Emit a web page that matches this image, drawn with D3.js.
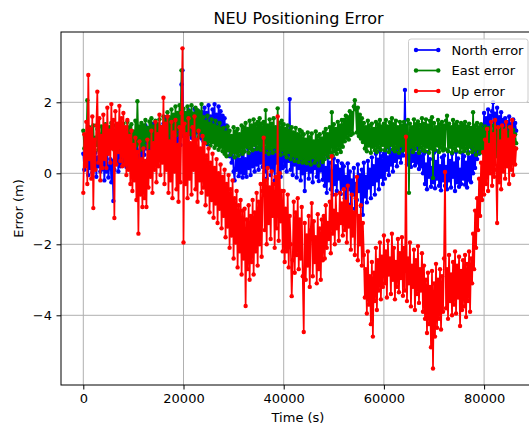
<!DOCTYPE html>
<html>
<head>
<meta charset="utf-8">
<script src="https://cdn.jsdelivr.net/npm/d3@7"></script>
<style>
  html, body { margin: 0; padding: 0; background: #ffffff; }
  svg { display: block; font-family: "DejaVu Sans", sans-serif; }
</style>
</head>
<body>
<svg id="chart" width="529" height="426"></svg>
<script>
// ---- data ----
const chartTitle = "NEU Positioning Error";
const xLabel = "Time (s)";
const yLabel = "Error (m)";
const seriesNames = ["North error", "East error", "Up error"];
const seriesColors = ["#0000ff", "#008000", "#ff0000"];
const xTicks = [0, 20000, 40000, 60000, 80000];
const yTicks = [-4, -2, 0, 2];
const sampleStep = 200; // seconds between plotted epochs (0 .. 86400 s)

const northError = [
  0.55, 0.10, 0.72, 0.25, 0.48, -0.05, 0.80, 0.15, 0.40, 0.02, 0.66, 0.30, 0.58, -0.10, 0.45, 0.20, 0.75, 0.05, 0.35, 0.12,
  0.50, -0.20, 0.30, 0.05, 0.62, -0.12, 0.18, 0.40, -0.25, 0.35, -0.78, 0.10, 0.70, 0.28, 0.55, 0.05, 0.85, 0.20, 0.60, 0.32,
  0.95, 0.30, 0.70, 0.18, 1.05, 0.45, 0.80, 0.25, 0.62, 0.38, 1.10, 0.22, 0.75, 0.50, 0.92, 0.28, 0.58, 0.40, 1.00, 0.35,
  1.15, 0.52, 1.35, 0.70, 0.95, 0.42, 1.28, 0.60, 1.05, 0.48, 1.40, 0.75, 0.90, 0.55, 1.22, 0.65, 1.32, 0.50, 1.10, 0.80,
  1.40, 0.78, 1.58, 0.95, 1.25, 0.70, 1.50, 0.88, 1.35, 1.00, 1.62, 0.74, 1.30, 0.85, 1.52, 0.92, 1.45, 0.80, 2.50, 2.90,
  1.05, 1.70, 1.20, 1.55, 0.92, 1.78, 1.10, 1.45, 1.00, 1.68, 1.25, 1.82, 0.95, 1.60, 1.15, 1.75, 1.02, 1.50, 0.98, 1.72,
  0.90, 1.85, 1.15, 1.70, 0.82, 1.92, 1.05, 1.60, 0.88, 1.80, 1.30, 1.95, 0.95, 1.65, 0.85, 1.88, 1.10, 1.75, 0.92, 1.62,
  0.85, 1.55, 0.95, 1.35, 0.70, 1.20, 0.48, 0.98, 0.30, 0.75, 0.05, -0.20, 0.45, 0.10, 0.62, -0.08, 0.38, 0.02, 0.55, -0.12,
  0.60, 0.00, 0.40, -0.10, 0.72, 0.15, 0.55, -0.05, 0.80, 0.20, 0.65, 0.05, 0.92, 0.25, 0.70, 0.10, 1.00, 0.30, 0.78, 0.18,
  0.98, 0.05, 0.70, -0.15, 0.88, 0.20, 1.05, -0.05, 0.60, 0.10, 0.95, -0.20, 0.80, 0.30, 1.08, 0.00, 0.75, -0.10, 0.92, 0.15,
  1.15, 0.20, 0.90, 0.05, 1.20, 0.35, 2.09, 0.10, 0.95, -0.05, 1.10, 0.25, 0.80, -0.12, 0.98, 0.15, 0.70, -0.20, 0.85, 0.00,
  0.75, -0.50, 0.55, 0.10, 0.82, -0.15, 0.40, 0.05, 0.70, -0.25, 0.60, 0.15, 0.78, -0.10, 0.45, -0.22, 0.66, 0.08, 0.50, -0.18,
  0.40, -0.35, 0.15, -0.55, 0.48, -0.20, 0.30, -0.45, 0.05, -0.60, 0.42, -0.30, 0.20, -0.50, 0.35, -0.15, 0.10, -0.58, 0.28, -0.40,
  0.20, -0.70, -0.10, -0.95, 0.28, -0.45, 0.05, -0.88, -0.20, -0.60, 0.15, -1.00, -0.30, -0.75, 0.25, -0.50, -0.05, -0.92, 0.10, -1.17,
  0.30, -0.65, -0.10, -0.82, 0.35, -0.40, 0.10, -0.70, 0.45, -0.30, 0.20, -0.60, 0.55, -0.20, 0.38, -0.45, 0.62, -0.10, 0.48, -0.30,
  0.55, -0.15, 0.70, 0.10, 0.45, -0.05, 0.80, 0.25, 0.62, 0.05, 0.88, 0.35, 0.70, 0.20, 0.95, 0.45, 0.78, 0.30, 0.92, 0.50,
  0.72, 2.35, 0.50, 0.25, 0.78, 0.40, 0.62, 0.18, 0.70, 0.35, 0.80, 0.22, 0.55, 0.30, 0.74, 0.12, 0.60, 0.20, 0.48, 0.00,
  0.55, -0.30, 0.25, -0.45, 0.60, -0.10, 0.40, -0.38, 0.15, -0.25, 0.58, -0.42, 0.32, -0.15, 0.62, -0.35, 0.20, -0.48, 0.45, -0.20,
  0.50, -0.35, 0.18, -0.45, 0.62, -0.20, 0.35, -0.40, 0.55, -0.10, 0.28, -0.50, 0.60, -0.25, 0.42, -0.38, 0.10, -0.30, 0.58, -0.15,
  0.48, -0.32, 0.30, -0.40, 0.60, -0.18, 0.45, -0.25, 0.70, 0.00, 0.85, 0.15, 0.75, 0.40, 1.05, 0.55, 1.20, 0.72, 1.35, 0.90,
  1.70, 1.10, 1.55, 1.00, 1.80, 1.25, 1.62, 1.05, 1.75, 2.00, 1.15, 1.68, 1.30, 1.85, 1.08, 1.58, 1.20, 1.72, 1.02, 1.50,
  1.00, 1.55, 1.18, 1.45, 0.90, 1.60, 1.25, 1.38, 0.95, 1.52, 1.10, 1.42, 1.20
];

const eastError = [
  1.20, 0.70, 1.05, 0.62, 2.06, 0.85, 1.30, 0.68, 1.15, 0.75, 1.35, 0.60, 1.00, 0.80, 1.25, 0.66, 1.10, 0.72, 1.32, 0.78,
  1.25, 0.68, 1.38, 0.85, 1.15, 0.62, 1.30, 0.75, 1.42, 0.90, 1.20, 0.66, 1.35, 0.80, 1.10, 0.70, 1.40, 0.88, 1.22, 0.64,
  1.40, 0.75, 1.25, 0.68, 1.45, 0.90, 1.30, 0.72, 1.38, 0.82, 1.18, 0.70, 1.48, 0.78, 2.03, 0.85, 1.32, 0.66, 1.42, 0.80,
  1.35, 0.78, 1.50, 0.92, 1.28, 0.74, 1.46, 0.85, 1.55, 0.80, 1.32, 0.95, 1.48, 0.76, 1.38, 0.88, 1.52, 0.82, 1.30, 0.90,
  1.60, 0.92, 1.48, 1.05, 1.72, 0.98, 1.58, 1.12, 1.80, 1.02, 1.65, 1.20, 1.88, 1.08, 1.70, 1.25, 1.92, 1.15, 2.90, 1.30,
  1.82, 1.15, 1.70, 1.05, 1.88, 1.25, 1.75, 1.10, 1.92, 1.30, 1.68, 1.08, 1.85, 1.20, 1.78, 1.02, 1.72, 1.18, 1.95, 1.12,
  1.58, 0.95, 1.45, 0.85, 1.62, 0.90, 1.40, 0.78, 1.52, 0.88, 1.35, 0.72, 1.48, 0.80, 1.30, 0.66, 1.42, 0.75, 1.25, 0.62,
  1.28, 0.55, 1.15, 0.48, 1.32, 0.65, 1.20, 0.52, 1.05, 0.60, 1.30, 0.45, 1.18, 0.58, 1.25, 0.50, 1.10, 0.62, 1.35, 0.55,
  1.30, 0.62, 1.42, 0.75, 1.25, 0.58, 1.48, 0.70, 1.35, 0.65, 1.52, 0.80, 1.38, 0.68, 1.45, 0.72, 1.55, 0.66, 1.40, 0.78,
  1.45, 0.60, 1.78, 0.72, 1.35, 0.55, 1.52, 0.68, 1.40, 0.58, 1.55, 0.75, 1.30, 0.62, 1.83, 0.70, 1.42, 0.52, 1.48, 0.66,
  1.38, 0.55, 1.25, 0.45, 1.35, 0.60, 1.20, 0.40, 1.30, 0.50, 1.15, 0.35, 1.28, 0.48, 1.10, 0.32, 1.22, 0.42, 1.18, 0.30,
  1.10, 0.35, 0.95, 0.28, 1.15, 0.40, 1.02, 0.25, 1.12, 0.45, 0.90, 0.30, 1.18, 0.38, 1.05, 0.22, 1.10, 0.42, 0.98, 0.32,
  1.15, 0.40, 1.25, 0.52, 1.10, 0.45, 1.30, 0.58, 1.72, 0.50, 1.38, 0.62, 1.25, 0.55, 1.45, 0.68, 1.35, 0.60, 1.50, 0.75,
  1.50, 0.90, 1.62, 1.00, 1.58, 0.95, 1.75, 1.08, 1.70, 1.12, 1.88, 2.06, 1.80, 1.15, 1.85, 1.05, 1.65, 0.98, 1.55, 0.88,
  1.42, 0.70, 1.30, 0.62, 1.48, 0.78, 1.35, 0.58, 1.40, 0.75, 1.25, 0.65, 1.45, 0.60, 1.38, 0.72, 1.50, 0.66, 1.32, 0.80,
  1.40, 0.65, 1.50, 0.75, 1.32, 0.60, 1.44, 0.80, 1.55, 0.68, 1.38, 0.62, 1.48, 0.72, 1.30, 0.58, 1.45, 0.78, 1.35, 0.64,
  1.45, 0.70, 1.35, 0.62, 1.50, -0.55, 1.40, 0.75, 1.30, 0.60, 1.52, 0.68, 1.38, 0.80, 1.46, 0.58, 1.36, 0.72, 1.55, 0.65,
  1.40, 0.62, 1.52, 0.75, 1.35, 0.58, 1.48, 0.70, 1.58, -0.13, 1.42, 0.66, 1.30, 0.78, 1.50, 0.60, 1.38, 0.72, 1.45, 0.64,
  1.35, 0.68, 1.48, 1.62, 0.62, 1.40, 0.75, 1.30, 0.58, 1.50, 0.70, 1.38, 0.64, 1.45, 0.78, 1.32, 0.60, 1.42, 0.72, 1.36,
  0.62, 1.45, 0.70, 1.32, 0.56, 1.40, 0.75, 1.28, 0.60, 1.72, 0.66, 1.35, 0.52, 1.42, 0.70, 1.30, 0.58, 1.38, 0.68, 1.25,
  0.55, 1.32, 0.65, 1.20, 0.50, 1.28, 0.70, 1.15, 0.58, 1.35, 0.62, 1.22, 0.48, 1.30, 0.68, 1.18, 0.55, 1.26, 0.60, 1.12,
  0.58, 1.25, 0.70, 1.15, 0.55, 1.30, 0.66, 1.18, 0.60, 1.22, 0.72, 1.10, 0.85
];

const upError = [
  -0.55, 1.10, 0.20, 1.45, -0.30, 2.77, 0.40, 1.25, -0.15, 1.60, -0.98, 0.95, 0.10, 1.35, 2.30, 0.30, 1.55, -0.20, 1.05, 0.15,
  1.65, 0.40, 1.35, 0.15, 1.85, 0.55, 1.20, 0.30, 1.95, 0.70, 1.50, -1.26, 1.75, 0.25, 1.40, 0.60, 1.90, 0.35, 1.55, 0.20,
  1.70, 0.25, 1.30, -0.05, 1.50, 0.10, 1.05, -0.30, 1.20, -0.50, 0.80, -0.20, 1.00, -0.75, 0.60, -1.70, 0.90, -0.60, 0.40, -0.95,
  0.70, -0.70, 0.35, -0.95, 0.95, -0.40, 0.60, -0.10, 1.20, -0.55, 0.85, 0.10, 1.45, -0.25, 1.10, 0.20, 1.65, -0.05, 1.30, 0.30,
  2.13, -0.30, 1.40, 0.10, 1.60, -0.55, 0.90, -0.20, 1.45, -0.70, 1.15, 0.05, 1.50, -0.45, 0.80, -0.80, 1.30, -0.25, 1.70, 3.52,
  -1.95, 1.40, -0.30, 1.10, -0.70, 1.55, -0.15, 0.85, -0.60, 1.30, 0.10, 1.60, -0.45, 0.95, -0.80, 1.20, -0.20, 0.70, -0.55, 1.05,
  -0.40, 0.85, -0.90, 0.50, -0.60, 0.70, -1.10, 0.30, -0.75, 0.55, -1.25, 0.15, -0.85, 0.40, -1.40, 0.00, -1.00, 0.25, -1.55, -0.10,
  -1.20, 0.10, -1.80, -0.30, -1.50, -0.05, -2.10, -0.45, -1.75, -0.20, -2.40, -0.70, -1.95, -0.50, -2.65, -0.90, -2.20, -0.75, -2.85, -1.05,
  -2.40, -1.00, -3.74, -1.30, -2.70, -0.90, -3.00, -1.20, -2.50, -0.75, -2.85, -1.10, -2.20, -0.55, -2.60, -0.80, -2.00, -0.30, -2.35, -0.50,
  1.00, -1.60, -0.20, -2.00, 0.15, -1.40, -0.40, -1.85, 0.05, -1.20, -0.30, -2.10, -0.10, -1.55, 1.60, -1.90, 0.00, -1.35, -0.50, -2.20,
  -0.50, -2.50, -1.00, -2.20, -0.60, -2.65, -1.20, -2.00, -3.46, -2.45, -0.80, -2.80, -1.10, -2.30, -0.70, -2.70, -1.30, -2.40, -0.95, -2.90,
  -4.47, -1.40, -3.00, -1.75, -2.60, -1.20, -3.20, -1.60, -0.84, -2.90, -1.35, -2.50, -1.80, -3.10, -1.15, -2.70, -1.55, -3.00, -1.30, -2.45,
  -1.20, -2.40, -0.90, -2.10, -1.40, -1.85, -0.80, -2.25, 0.48, -1.70, -1.05, -2.00, -0.60, -1.55, -1.15, -1.90, -0.55, -1.40, -0.85, -1.75,
  -0.45, -1.60, -0.80, -1.95, -0.35, -1.50, -0.95, -2.15, -0.60, -1.75, -1.10, -2.30, -0.70, -0.10, -2.45, -1.20, -2.00, -0.90, -2.60, -1.40,
  -2.30, -3.50, -2.70, -3.95, -2.20, -3.70, -2.90, -4.25, -2.50, -4.60, -2.80, -3.60, -2.10, -3.85, -2.45, -3.30, -1.95, -3.55, -2.35, -3.20,
  -1.75, -3.10, -2.20, -3.50, -1.90, -2.85, -2.40, -3.40, -1.70, -3.00, -2.10, -3.55, -2.50, -3.20, -1.85, -3.35, -2.25, -2.95, -1.80, -3.45,
  -2.10, -3.30, 1.03, -3.60, -2.40, -3.10, -1.95, -3.75, -2.60, -3.20, -2.15, -3.85, -2.45, -3.40, -2.05, -3.65, -2.70, -3.30, -2.25, -3.90,
  -2.60, -4.10, -3.00, -4.50, -2.80, -4.25, -3.20, -4.90, -2.75, -5.50, -3.10, -4.60, -2.55, -4.35, -3.00, -4.10, -2.70, -4.40, -2.90, -3.90,
  -2.40, 0.04, -3.80, -2.70, -4.10, -2.30, -3.60, -2.85, -4.00, -2.50, -3.70, -2.20, -3.95, -2.60, -3.50, -2.35, -4.30, -2.75, -3.85, -2.45,
  -3.75, -2.30, -4.05, -2.55, -3.60, -2.20, -3.90, -2.40, -3.10, -1.70, -2.70, -1.05, -2.10, -0.70, -1.60, -0.15, -1.20, 0.30, -0.75, 0.60,
  -0.60, 0.95, -0.30, 1.25, -0.50, 0.80, 0.00, 1.45, -0.35, 1.10, -0.10, 1.50, 0.10, -1.40, 1.30, -0.25, 0.90, -0.45, 1.35, 0.05,
  1.20, -0.15, 1.45, 0.20, 0.95, -0.30, 1.30, 0.10, 1.50, -0.05, 1.05, 0.25, 0.70
];

const seriesValues = [northError, eastError, upError];

// ---- layout ----
const svg = d3.select("#chart");
const W = 529, H = 426;
const plot = { left: 61, top: 32, right: 537, bottom: 385 };

svg.append("rect").attr("width", W).attr("height", H).attr("fill", "#ffffff");

const x = d3.scaleLinear().domain([0, 80000]).range([83.3, 484.1]);
const y = d3.scaleLinear().domain([-4, 2]).range([315.3, 102.3]);

svg.append("defs").append("clipPath").attr("id", "plotclip")
  .append("rect")
  .attr("x", plot.left).attr("y", plot.top)
  .attr("width", plot.right - plot.left).attr("height", plot.bottom - plot.top);

// grid
const grid = svg.append("g");
grid.selectAll("line.gx").data(xTicks).join("line")
  .attr("x1", d => x(d)).attr("x2", d => x(d))
  .attr("y1", plot.top).attr("y2", plot.bottom)
  .attr("stroke", "#b0b0b0").attr("stroke-width", 1);
grid.selectAll("line.gy").data(yTicks).join("line")
  .attr("x1", plot.left).attr("x2", plot.right)
  .attr("y1", d => y(d)).attr("y2", d => y(d))
  .attr("stroke", "#b0b0b0").attr("stroke-width", 1);

// series
const dataLayer = svg.append("g").attr("clip-path", "url(#plotclip)");
const line = d3.line().x(d => x(d[0])).y(d => y(d[1]));
seriesValues.forEach((vals, k) => {
  const pts = vals.map((v, i) => [i * sampleStep, v]);
  const g = dataLayer.append("g");
  g.append("path").datum(pts)
    .attr("d", line)
    .attr("fill", "none")
    .attr("stroke", seriesColors[k])
    .attr("stroke-width", 1.7)
    .attr("stroke-linejoin", "round");
  g.selectAll("circle").data(pts).join("circle")
    .attr("cx", d => x(d[0])).attr("cy", d => y(d[1]))
    .attr("r", 2.2)
    .attr("fill", seriesColors[k]);
});

// axes ticks
const xAxis = d3.axisBottom(x).tickValues(xTicks).tickSize(4.5).tickPadding(4).tickFormat(d3.format("d"));
const yAxis = d3.axisLeft(y).tickValues(yTicks).tickSize(4.5).tickPadding(4.5).tickFormat(d3.format("d"));
const gx = svg.append("g").attr("transform", `translate(0,${plot.bottom})`).call(xAxis);
const gy = svg.append("g").attr("transform", `translate(${plot.left},0)`).call(yAxis);
[gx, gy].forEach(g => {
  g.select(".domain").remove();
  g.selectAll(".tick line").attr("stroke", "#000").attr("stroke-width", 1);
  g.selectAll(".tick text").attr("fill", "#000")
    .style("font-family", "'DejaVu Sans', sans-serif").style("font-size", "13px");
});

// spines
svg.append("rect")
  .attr("x", plot.left).attr("y", plot.top)
  .attr("width", plot.right - plot.left).attr("height", plot.bottom - plot.top)
  .attr("fill", "none").attr("stroke", "#000").attr("stroke-width", 1);

// title & labels
svg.append("text").attr("x", 298.5).attr("y", 23.5)
  .attr("text-anchor", "middle").style("font-size", "16px").attr("fill", "#000")
  .text(chartTitle);
svg.append("text").attr("x", 298).attr("y", 421.5)
  .attr("text-anchor", "middle").style("font-size", "13px").attr("fill", "#000")
  .text(xLabel);
svg.append("text").attr("transform", "translate(23,208.5) rotate(-90)")
  .attr("text-anchor", "middle").style("font-size", "13px").attr("fill", "#000")
  .text(yLabel);

// legend
const lg = svg.append("g");
lg.append("rect")
  .attr("x", 408.5).attr("y", 39).attr("width", 119.5).attr("height", 63.5)
  .attr("rx", 2.5)
  .attr("fill", "#ffffff").attr("fill-opacity", 0.8)
  .attr("stroke", "#cccccc").attr("stroke-width", 1);
const rowY = [50, 70.5, 91];
seriesNames.forEach((name, k) => {
  const ry = rowY[k];
  lg.append("line").attr("x1", 416).attr("x2", 438.3)
    .attr("y1", ry).attr("y2", ry)
    .attr("stroke", seriesColors[k]).attr("stroke-width", 1.7);
  [416, 438.3].forEach(cx => lg.append("circle")
    .attr("cx", cx).attr("cy", ry).attr("r", 2.2).attr("fill", seriesColors[k]));
  lg.append("text").attr("x", 451.5).attr("y", ry + 4.7)
    .style("font-size", "13px").attr("fill", "#000").text(name);
});
</script>
</body>
</html>
